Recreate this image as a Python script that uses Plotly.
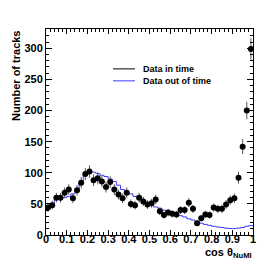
import numpy as np
import plotly.graph_objects as go

# bin centres (50 bins of width 0.02 in cos theta_NuMI)
bin_centers = [round(0.01 + 0.02 * i, 2) for i in range(50)]
bin_edges = [round(0.02 * i, 2) for i in range(51)]

# Data in time (counts per bin)
in_time = [44, 48, 60, 60, 68, 73, 59, 72, 84, 98,
           102, 88, 91, 86, 77, 85, 73, 65, 59, 68,
           50, 48, 60, 54, 49, 51, 57, 38, 32, 36,
           34, 33, 40, 40, 52, 42, 19, 27, 33, 32,
           44, 42, 42, 49, 56, 59, 92, 142, 200, 299]

# Data out of time (normalised histogram)
out_time = [44, 50, 57, 58, 60, 62, 66, 71, 84, 98,
            102, 101, 99, 96, 94, 90, 86, 80, 73, 68,
            66, 62, 58, 54, 50, 48, 45, 43, 40, 38,
            36, 33, 31, 29, 26, 24, 21, 19, 17, 15.5,
            14, 13, 12, 11, 10.5, 10.5, 11, 12, 14, 15]

x_ticks = [0, 0.1, 0.2, 0.3, 0.4, 0.5, 0.6, 0.7, 0.8, 0.9, 1]
x_tick_labels = ["0", "0.1", "0.2", "0.3", "0.4", "0.5", "0.6", "0.7", "0.8", "0.9", "1"]
y_ticks = [0, 50, 100, 150, 200, 250, 300]

errors = [float(np.sqrt(v)) for v in in_time]

FONT = "Liberation Sans, Arial, Helvetica, sans-serif"
BLUE = "#3c3cff"

fig = go.Figure()

fig.add_trace(go.Scatter(
    x=bin_edges, y=out_time + [out_time[-1]],
    mode="lines", line=dict(color=BLUE, width=1, shape="hv"),
    showlegend=False, hoverinfo="skip"))

fig.add_trace(go.Scatter(
    x=bin_centers, y=in_time,
    mode="markers",
    marker=dict(color="black", size=6),
    error_y=dict(type="data", array=errors, visible=True, color="#555555",
                 thickness=1, width=0),
    showlegend=False))

axis_common = dict(
    showgrid=False, zeroline=False, showline=True, linecolor="black",
    linewidth=1, mirror="allticks", ticks="inside", tickcolor="black",
    tickfont=dict(family=FONT, size=11, color="black", weight="bold"),
)

fig.update_xaxes(
    range=[0, 1], tickvals=x_ticks, ticktext=x_tick_labels, ticklen=5,
    ticklabelstandoff=-6,
    minor=dict(dtick=0.02, ticks="inside", ticklen=3, tickcolor="black"),
    **axis_common)
fig.update_yaxes(
    range=[0, 331], tickvals=y_ticks, ticklen=6,
    minor=dict(dtick=10, ticks="inside", ticklen=3, tickcolor="black"),
    **axis_common)

# legend (drawn manually, ROOT style)
fig.add_shape(type="line", xref="paper", yref="paper",
              x0=(105 - 38) / 207, x1=(127 - 38) / 207,
              y0=(227.3 - 60.7) / 206.6, y1=(227.3 - 60.7) / 206.6,
              line=dict(color="black", width=1))
fig.add_shape(type="line", xref="paper", yref="paper",
              x0=(105 - 38) / 207, x1=(127 - 38) / 207,
              y0=(227.3 - 72.7) / 206.6, y1=(227.3 - 72.7) / 206.6,
              line=dict(color=BLUE, width=1))
fig.add_annotation(text="Data in time", xref="paper", yref="paper",
                   x=(132.5 - 38) / 207, y=(227.3 - 60.7) / 206.6,
                   xanchor="left", yanchor="middle", showarrow=False,
                   font=dict(family=FONT, size=9, color="black", weight="bold"))
fig.add_annotation(text="Data out of time", xref="paper", yref="paper",
                   x=(132.5 - 38) / 207, y=(227.3 - 72.7) / 206.6,
                   xanchor="left", yanchor="middle", showarrow=False,
                   font=dict(family=FONT, size=9, color="black", weight="bold"))

# axis titles
fig.add_annotation(text="Number of tracks", xref="paper", yref="paper",
                   x=-0.145, y=1.0, xanchor="center", yanchor="top",
                   textangle=-90, showarrow=False,
                   font=dict(family=FONT, size=11, color="black", weight="bold"))
fig.add_annotation(text="cos θ<sub>NuMI</sub>", xref="paper", yref="paper",
                   x=1.0, y=-0.05, xanchor="right", yanchor="top",
                   showarrow=False, borderpad=0,
                   font=dict(family=FONT, size=11, color="black", weight="bold"))

fig.update_layout(
    width=273, height=259,
    margin=dict(l=38, r=28, t=21, b=32),
    paper_bgcolor="white", plot_bgcolor="white",
    showlegend=False,
)

fig.write_html("out.html")
